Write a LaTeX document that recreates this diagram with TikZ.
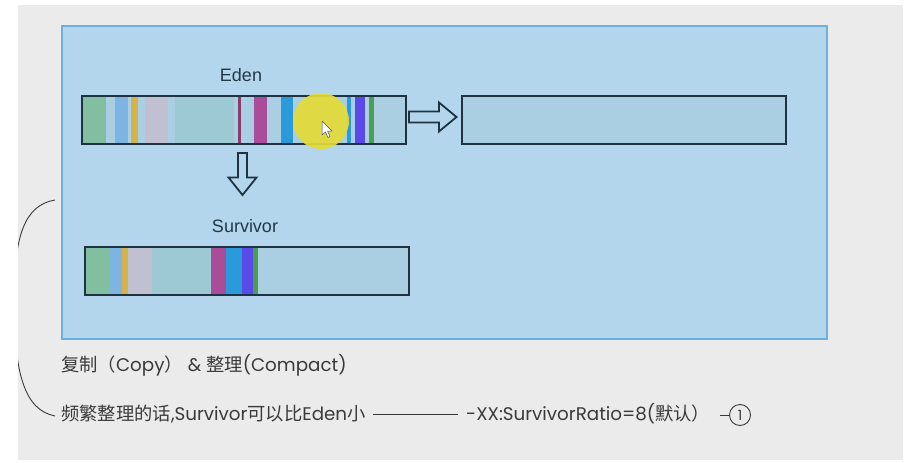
\documentclass[tikz,border=0pt]{standalone}
\usepackage{fontspec}
\setmainfont{Poppins}
\newfontfamily\cjk{Noto Sans CJK SC}
\newfontfamily\arialf{Liberation Sans}
\begin{document}
\begin{tikzpicture}[x=1pt,y=-1pt,
  boxstyle/.style={draw=boxline,line width=2pt},
  hollowarrow/.style={draw=boxline,line width=1.8pt,fill=panelblue,line join=miter},
  labeltext/.style={font=\arialf\fontsize{18}{20}\selectfont,text=labelc,inner sep=0pt},
  bottomtext/.style={font=\fontsize{18.3}{21}\selectfont,text=textc,inner sep=0pt,anchor=west},
  thinline/.style={draw=textc,line width=0.9pt}]
\definecolor{panelgray}{HTML}{EBEBEB}
\definecolor{panelblue}{HTML}{B3D6EC}
\definecolor{panelborder}{HTML}{6CB0E0}
\definecolor{boxfill}{HTML}{ABCFE2}
\definecolor{boxline}{HTML}{1F3242}
\definecolor{labelc}{HTML}{243848}
\definecolor{textc}{HTML}{3A3A3A}
\definecolor{sgreen}{HTML}{82BFA0}
\definecolor{slblue}{HTML}{7EB4E2}
\definecolor{syellow}{HTML}{D6B24A}
\definecolor{slav}{HTML}{C0C0D2}
\definecolor{steal}{HTML}{9CC9D4}
\definecolor{sdpurp}{HTML}{8A3C6C}
\definecolor{smag}{HTML}{AA4C9A}
\definecolor{sblue}{HTML}{2A9ADA}
\definecolor{sviolet}{HTML}{5A4AEA}
\definecolor{sgreen2}{HTML}{4AA052}
\definecolor{hlyellow}{HTML}{E4DC36}
\useasboundingbox (0,0) rectangle (911,463);
\fill[white] (0,0) rectangle (911,463);
% gray panel
\fill[panelgray] (18,5) rectangle (903,460);
% blue panel
\node[draw=panelborder,line width=1.6pt,fill=panelblue,minimum width=765pt,minimum height=313pt,inner sep=0pt,anchor=north west] (panel) at (61,25) {};
% brace-like curve clipped at the gray panel
\begin{scope}
\clip (18,5) rectangle (903,460);
\draw[thinline] (55,200) .. controls (25,205) and (14,235) .. (14,300) .. controls (14,375) and (25,410) .. (55,416);
\end{scope}
% Eden box
\node[labeltext] (edenlbl) at (241,75) {Eden};
\fill[boxfill] (81,95) rectangle (405,143);
\fill[sgreen] (82,95) rectangle (106,143);
\fill[slblue] (115,95) rectangle (128,143);
\fill[syellow] (131,95) rectangle (138,143);
\fill[slav] (145,95) rectangle (168,143);
\fill[steal] (175,95) rectangle (234,143);
\fill[sdpurp] (238,95) rectangle (241,143);
\fill[smag] (254,95) rectangle (267,143);
\fill[sblue] (281,95) rectangle (293,143);
\fill[sblue] (347,95) rectangle (351,143);
\fill[sviolet] (355,95) rectangle (365,143);
\fill[sgreen2] (369,95) rectangle (374,143);
\node[boxstyle,minimum width=324pt,minimum height=48pt,inner sep=0pt,anchor=north west] (eden) at (81,95) {};
% highlight and cursor
\fill[hlyellow,opacity=0.92] (321,121) circle (28);
\draw[fill=white,draw=black!70,line width=0.5pt,line join=round] (322,121) -- (322,135) -- (325.5,132) -- (328,137.5) -- (330,136.5) -- (327.5,131) -- (332,131) -- cycle;
% right box
\node[boxstyle,fill=boxfill,minimum width=324pt,minimum height=48pt,inner sep=0pt,anchor=north west] (old) at (461,95) {};
% right hollow arrow
\draw[hollowarrow] (409,111.5) -- (439,111.5) -- (439,102.5) -- (456.5,117) -- (439,131.5) -- (439,122.5) -- (409,122.5) -- cycle;
% down hollow arrow
\draw[hollowarrow] (238,153) -- (247,153) -- (247,177.5) -- (256.5,177.5) -- (242.5,195) -- (228.5,177.5) -- (238,177.5) -- cycle;
% Survivor box
\node[labeltext] (survlbl) at (245,226) {Survivor};
\fill[boxfill] (84,246) rectangle (408,294);
\fill[sgreen] (85,246) rectangle (109,294);
\fill[slblue] (109,246) rectangle (122,294);
\fill[syellow] (122,246) rectangle (128,294);
\fill[slav] (128,246) rectangle (152,294);
\fill[steal] (152,246) rectangle (211,294);
\fill[smag] (211,246) rectangle (226,294);
\fill[sblue] (226,246) rectangle (242,294);
\fill[sviolet] (242,246) rectangle (253,294);
\fill[sgreen2] (253,246) rectangle (258,294);
\node[boxstyle,minimum width=324pt,minimum height=48pt,inner sep=0pt,anchor=north west] (surv) at (84,246) {};
% bottom texts
\node[bottomtext] (t1) at (61,365) {{\cjk 复制（}Copy{\cjk ）} \& {\cjk 整理}(Compact)};
\node[bottomtext] (t2) at (61,414) {{\cjk 频繁整理的话}{,}Survivor{\cjk 可以比}Eden{\cjk 小}};
\node[bottomtext] (t3) at (466,414) {-XX:SurvivorRatio=8({\cjk 默认}{\cjk ）}};
\draw[thinline] (t2.east) ++(7,0) coordinate (l1a) -- (458,414) coordinate (l1b);
\node[draw=textc,line width=0.9pt,circle,minimum size=21pt,inner sep=0pt,font=\fontsize{14}{16}\selectfont,text=textc] (c1) at (740,415) {1};
\coordinate (c1l) at (720,415);
\draw[thinline] (c1l) -- (c1.west);
\end{tikzpicture}
\end{document}
